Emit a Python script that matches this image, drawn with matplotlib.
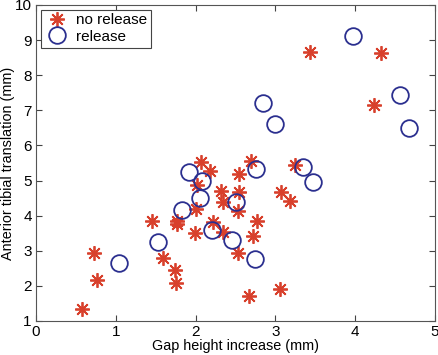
import matplotlib.pyplot as plt

plt.rcParams['font.family'] = ['Liberation Sans', 'DejaVu Sans']

# no release (asterisks)
norel_x = [0.58, 0.725, 0.77, 1.45, 1.59, 1.74, 1.76, 1.77, 1.77, 1.99, 2.01,
           2.02, 2.07, 2.18, 2.22, 2.32, 2.34, 2.34, 2.53, 2.53, 2.54, 2.55,
           2.67, 2.69, 2.72, 2.77, 3.06, 3.07, 3.18, 3.25, 3.43, 4.23, 4.32]
norel_y = [1.34, 2.93, 2.17, 3.86, 2.79, 2.45, 2.09, 3.85, 3.76, 3.50, 4.20,
           4.87, 5.52, 5.28, 3.82, 4.70, 4.39, 3.54, 2.93, 4.14, 4.67, 5.18,
           1.72, 5.56, 3.42, 3.85, 1.91, 4.66, 4.43, 5.44, 8.67, 7.15, 8.63]

# release (circles)
rel_x = [1.04, 1.53, 1.83, 1.92, 2.06, 2.08, 2.21, 2.45, 2.50, 2.74, 2.76,
         2.85, 2.99, 3.34, 3.47, 3.97, 4.56, 4.68]
rel_y = [2.64, 3.26, 4.17, 5.23, 4.50, 5.00, 3.59, 3.30, 4.38, 2.77, 5.33,
         7.22, 6.61, 5.40, 4.95, 9.13, 7.44, 6.49]

fig = plt.figure(figsize=(4.39, 3.55), dpi=100)
ax = fig.add_axes([36 / 439, 34 / 355, 399 / 439, 316 / 355])

ax.plot(norel_x, norel_y, linestyle='none', marker=(8, 2, 0), markersize=10.5,
        markeredgewidth=1.3, color='#d8402c', label='no release')
ax.plot(rel_x, rel_y, linestyle='none', marker='o', markersize=12,
        markeredgewidth=1.3, markerfacecolor='none', markeredgecolor='#2b2f8f',
        label='release')

ax.set_xlim(0, 5)
ax.set_ylim(1, 10)
ax.set_xticks(range(0, 6))
ax.set_yticks(range(1, 11))
ax.tick_params(direction='in', top=True, right=True, length=4,
               labelsize=11, color='#444444', pad=3)
for s in ax.spines.values():
    s.set_color('#555555')
    s.set_linewidth(0.8)

ax.set_xlabel('Gap height increase (mm)', fontsize=10.4, labelpad=0)
ax.set_ylabel('Anterior tibial translation (mm)', fontsize=10.4, labelpad=0)

leg = ax.legend(loc='upper left', fontsize=11, fancybox=False, framealpha=1,
                edgecolor='#444444', borderaxespad=0.3, handletextpad=0.5,
                borderpad=0.25, labelspacing=0.15, handlelength=1.6)
leg.get_frame().set_linewidth(0.8)

fig.savefig('out.png', dpi=100)
